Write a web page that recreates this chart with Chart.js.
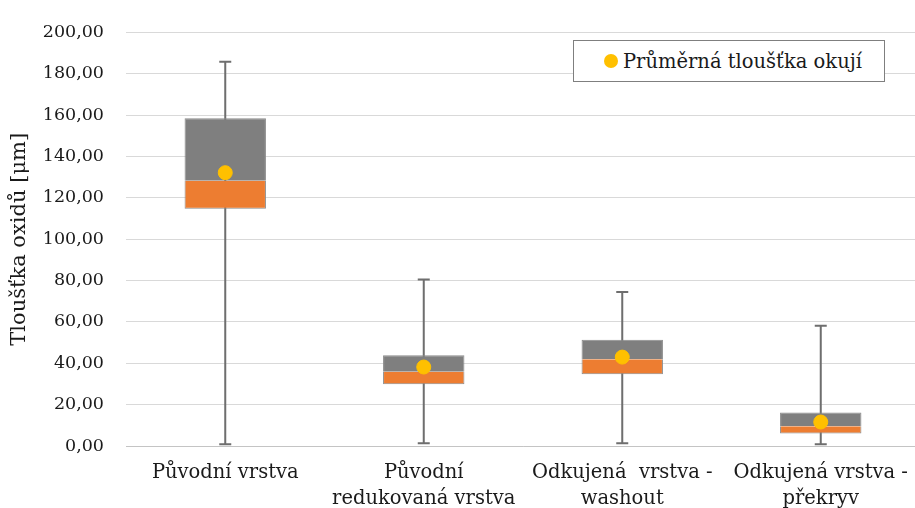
<!DOCTYPE html>
<html>
<head>
<meta charset="utf-8">
<script src="https://cdn.jsdelivr.net/npm/chart.js@4.4.1/dist/chart.umd.min.js"></script>
<style>
  html, body { margin: 0; padding: 0; background: #fff; overflow: hidden; width: 915px; height: 508px; }
  #wrap { position: relative; width: 928px; height: 508px; }
  #legend {
    position: absolute; left: 573px; top: 40px; width: 312px; height: 42px;
    box-sizing: border-box; border: 1px solid #7f7f7f; background: #fff;
    font: 19.5px "DejaVu Serif", serif; color: #1a1a1a;
    display: flex; align-items: center; padding-left: 30px; white-space: nowrap;
  }
  #legend .dot { width: 14px; height: 14px; border-radius: 50%; background: #ffc000; margin-right: 5px; flex: none; }
</style>
</head>
<body>
<div id="wrap">
  <canvas id="boxChart" width="928" height="508"></canvas>
  <div id="legend"><span class="dot"></span><span>Průměrná tloušťka okují</span></div>
</div>
<script>
const categories = [
  ["Původní vrstva"],
  ["Původní", "redukovaná vrstva"],
  ["Odkujená  vrstva -", "washout"],
  ["Odkujená vrstva -", "překryv"]
];
const whiskerMin = [0.8, 1.3, 1.3, 0.8];
const q1 = [114.7, 29.9, 34.7, 6.0];
const median = [128.3, 35.9, 41.9, 9.5];
const q3 = [158.5, 43.9, 51.4, 16.2];
const whiskerMax = [185.8, 80.5, 74.5, 58.2];
const mean = [132.2, 38.2, 43.0, 11.6];

const FONT = "'DejaVu Serif', serif";

// whiskers drawn under the boxes
const whiskers = {
  id: 'whiskers',
  beforeDatasetsDraw(chart) {
    const ctx = chart.ctx;
    const xs = chart.scales.x, ys = chart.scales.y;
    ctx.save();
    ctx.strokeStyle = "#6e6e6e";
    ctx.lineWidth = 2;
    for (let i = 0; i < categories.length; i++) {
      const x = xs.getPixelForValue(i);
      const yMin = ys.getPixelForValue(whiskerMin[i]);
      const yMax = ys.getPixelForValue(whiskerMax[i]);
      ctx.beginPath();
      ctx.moveTo(x, yMin); ctx.lineTo(x, yMax);
      ctx.moveTo(x - 6, yMin); ctx.lineTo(x + 6, yMin);
      ctx.moveTo(x - 6, yMax); ctx.lineTo(x + 6, yMax);
      ctx.stroke();
    }
    ctx.restore();
  }
};

new Chart(document.getElementById("boxChart"), {
  type: 'bar',
  data: {
    labels: categories,
    datasets: [
      {
        type: 'line',
        label: "Průměrná tloušťka okují",
        data: mean,
        showLine: false,
        pointRadius: 7,
        pointHoverRadius: 7,
        pointBackgroundColor: "#ffc000",
        pointBorderColor: "#ffc000",
        order: 0
      },
      {
        label: "Q1-medián",
        data: q1.map((v, i) => [v, median[i]]),
        backgroundColor: "#ed7d31",
        borderColor: "#8a8a8a",
        borderWidth: 1,
        borderSkipped: 'top',
        grouped: false,
        order: 1
      },
      {
        label: "medián-Q3",
        data: median.map((v, i) => [v, q3[i]]),
        backgroundColor: "#7f7f7f",
        borderColor: "#8a8a8a",
        borderWidth: 1,
        borderSkipped: 'bottom',
        grouped: false,
        order: 2
      }
    ]
  },
  options: {
    responsive: false,
    animation: false,
    layout: { padding: { top: 27, right: 0, left: 0, bottom: 0 } },
    datasets: { bar: { categoryPercentage: 1, barPercentage: 0.41 } },
    plugins: {
      legend: { display: false },
      tooltip: { enabled: false }
    },
    scales: {
      x: {
        grid: { display: false, drawTicks: false },
        border: { color: "#c4c4c4", width: 1 },
        ticks: {
          color: "#1a1a1a",
          font: { family: FONT, size: 19.5, lineHeight: 1.33 },
          padding: 14,
          maxRotation: 0,
          autoSkip: false
        },
        afterFit: (s) => { s.height = 62; }
      },
      y: {
        min: 0,
        max: 200,
        grid: { color: "#d9d9d9", drawTicks: false },
        border: { display: false },
        ticks: {
          stepSize: 20,
          color: "#1a1a1a",
          padding: 22,
          font: { family: FONT, size: 17.5 },
          callback: (v) => v.toFixed(2).replace(".", ",")
        },
        title: {
          display: true,
          text: "Tloušťka oxidů [μm]",
          color: "#1a1a1a",
          font: { family: FONT, size: 21 },
          padding: { top: 7, bottom: 0 }
        },
        afterFit: (s) => { s.width = 126; }
      }
    }
  },
  plugins: [whiskers]
});
</script>
</body>
</html>
